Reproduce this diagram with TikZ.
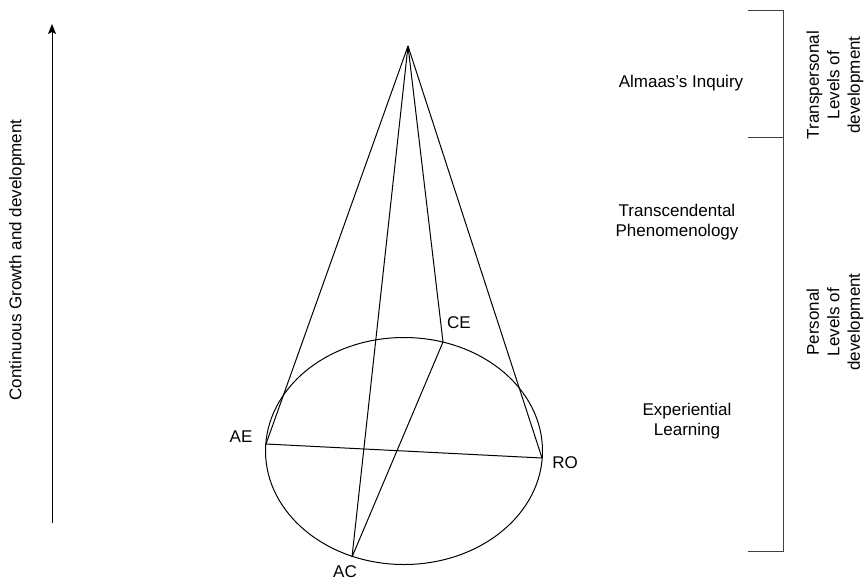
\documentclass[tikz,border=0pt]{standalone}
\usepackage{fontspec}
\setmainfont{Liberation Sans}
\usepackage{tikz}
\usetikzlibrary{shapes.geometric, arrows.meta, positioning}
\tikzset{
  base text/.style={
    align=center, inner sep=0pt, font=\fontsize{17}{20.5}\selectfont
  },
  level text/.style={base text},
  side text/.style={base text, rotate=90},
  point label/.style={base text},
  edge line/.style={line width=1pt, color=black, line join=round},
  bracket line/.style={line width=1pt, color=black!75},
  arrow/.style={-{Stealth[length=10pt, width=8pt, inset=2pt]}, line width=1pt, color=black},
}

\begin{document}
\begin{tikzpicture}[x=1pt, y=-1pt]

  \useasboundingbox (0,0) rectangle (866,581);

  % ── Growth axis ───────────────────────────────────────────────────────────
  \coordinate (axisbot) at (52,523);
  \coordinate (axistop) at (52,24);
  \draw[arrow] (axisbot) -- (axistop);
  \node[side text] (growth) at (17,260) {Continuous Growth and development};

  % ── Learning cycle (ellipse) ──────────────────────────────────────────────
  \node[draw, ellipse, line width=1pt, minimum width=277pt, minimum height=227pt,
        inner sep=0pt] (cycle) at (404,451) {};

  \coordinate (apex) at (408,46);
  \coordinate (ae)   at (266,444);
  \coordinate (ro)   at (542,458);
  \coordinate (ce)   at (443,342);
  \coordinate (ac)   at (352,557);

  \node[point label] (aelabel) at (241,437) {AE};
  \node[point label] (rolabel) at (565,463) {RO};
  \node[point label] (celabel) at (459,323) {CE};
  \node[point label] (aclabel) at (345,572) {AC};

  % ── Cone edges ────────────────────────────────────────────────────────────
  \draw[edge line] (apex) -- (ae);
  \draw[edge line] (apex) -- (ac);
  \draw[edge line] (apex) -- (ce);
  \draw[edge line] (apex) -- (ro);
  \draw[edge line] (ae) -- (ro);
  \draw[edge line] (ce) -- (ac);

  % ── Levels ────────────────────────────────────────────────────────────────
  \node[level text] (almaas)  at (681,83)  {Almaas’s Inquiry};
  \node[level text] (transc)  at (677,222) {Transcendental\\Phenomenology};
  \node[level text] (experi)  at (687,421) {Experiential\\Learning};

  % ── Bracket ───────────────────────────────────────────────────────────────
  \coordinate (brtop) at (783,10);
  \coordinate (brmid) at (783,137);
  \coordinate (brbot) at (783,551);
  \draw[bracket line] ([xshift=-35pt]brtop) -- (brtop) -- (brbot) -- ([xshift=-35pt]brbot);
  \draw[bracket line] ([xshift=-35pt]brmid) -- (brmid);

  \node[side text] (transpers) at (835,85)  {Transpersonal\\Levels of\\development};
  \node[side text] (personal)  at (835,322) {Personal\\Levels of\\development};

\end{tikzpicture}
\end{document}
